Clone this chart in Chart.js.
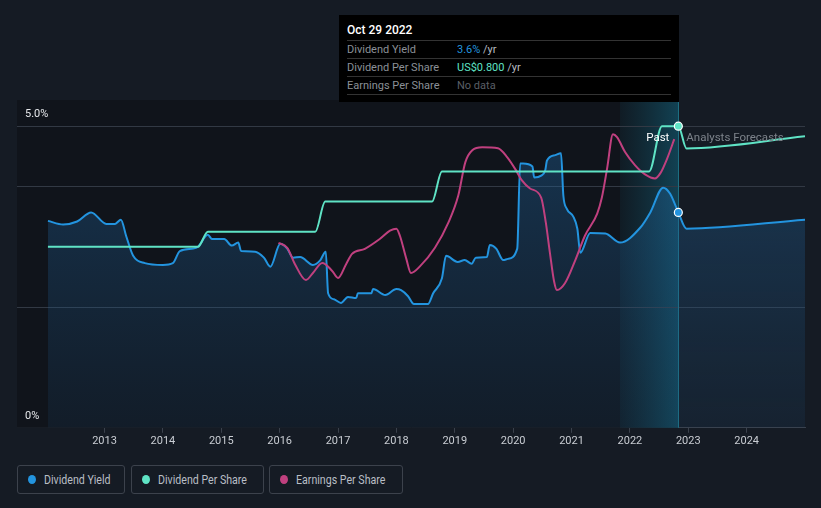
<!DOCTYPE html>
<html>
<head>
<meta charset="utf-8">
<script src="https://cdn.jsdelivr.net/npm/chart.js@4.4.0/dist/chart.umd.min.js"></script>
<style>
  body { margin: 0; background: #151b24; width: 821px; height: 508px; overflow: hidden; font-family: Roboto, sans-serif; }
  #wrap { position: absolute; left: 0; top: 0; width: 821px; height: 450px; }
  .tip { position: absolute; left: 339px; top: 15px; width: 340px; height: 87px; background: #000; box-sizing: border-box; padding: 7px 8px 0 8px; }
  .tip .title { color: #fff; font-size: 12px; font-weight: 500; height: 18px; line-height: 17px; border-bottom: 1px solid #333; }
  .tip .row { height: 17px; line-height: 17px; border-bottom: 1px solid #333; font-size: 11px; color: #8b9097; display: flex; }
  .tip .row span.l { width: 110px; }
  .tip .row .v { color: #b8bcc2; }
  .legend div { position: absolute; top: 465px; box-sizing: border-box; border: 1px solid #3c424c; border-radius: 3px; height: 29px; line-height: 27px; color: #b9bec5; font-size: 12.5px; white-space: nowrap; }
  .legend div i { position: absolute; left: 10px; top: 9px; width: 8px; height: 9px; border-radius: 50%; }
  .legend div span { position: absolute; left: 26px; top: 0; transform: scaleX(0.85); transform-origin: left center; }
</style>
</head>
<body>
<div id="wrap"><canvas id="chart"></canvas></div>

<div class="tip">
  <div class="title">Oct 29 2022</div>
  <div class="row"><span class="l">Dividend Yield</span><span class="v"><b style="color:#2394df;font-weight:400">3.6%</b> /yr</span></div>
  <div class="row"><span class="l">Dividend Per Share</span><span class="v"><b style="color:#5fe3c5;font-weight:400">US$0.800</b> /yr</span></div>
  <div class="row"><span class="l">Earnings Per Share</span><span style="color:#5a5f66">No data</span></div>
</div>

<div class="legend">
  <div style="left:17px;width:108px"><i style="background:#2394df"></i><span>Dividend Yield</span></div>
  <div style="left:131px;width:133px"><i style="background:#5fe3c5"></i><span>Dividend Per Share</span></div>
  <div style="left:269px;width:134px"><i style="background:#c0407f"></i><span>Earnings Per Share</span></div>
</div>

<script>
// decimal years on the x axis
const tickYears = [2013, 2014, 2015, 2016, 2017, 2018, 2019, 2020, 2021, 2022, 2023, 2024];
const todayYear = 2022.83;     // Oct 29 2022
const bandStart = 2021.83;     // last 12 months highlight

// Dividend yield (%)
const yieldYears = [2012.03, 2012.29, 2012.53, 2012.77, 2013.03, 2013.18, 2013.28, 2013.37, 2013.49, 2013.69,
  2014.00, 2014.17, 2014.29, 2014.52, 2014.60, 2014.77, 2014.84, 2015.05, 2015.18, 2015.29,
  2015.34, 2015.58, 2015.73, 2015.84, 2016.01, 2016.13, 2016.23, 2016.35, 2016.57, 2016.69,
  2016.79, 2016.83, 2016.93, 2017.05, 2017.17, 2017.31, 2017.34, 2017.57, 2017.60, 2017.81,
  2018.00, 2018.08, 2018.20, 2018.30, 2018.54, 2018.63, 2018.78, 2018.85, 2019.05, 2019.17,
  2019.29, 2019.36, 2019.55, 2019.60, 2019.71, 2019.83, 2019.91, 2020.07, 2020.12, 2020.17,
  2020.33, 2020.36, 2020.48, 2020.55, 2020.58, 2020.72, 2020.82, 2020.86, 2020.92, 2021.03,
  2021.10, 2021.15, 2021.32, 2021.58, 2021.83, 2022.18, 2022.35, 2022.57, 2022.69, 2022.83,
  2022.97, 2025.00];
const yieldValues = [3.43, 3.37, 3.42, 3.57, 3.38, 3.38, 3.45, 3.18, 2.85, 2.73,
  2.70, 2.73, 2.93, 2.97, 3.00, 3.20, 3.13, 3.13, 3.02, 3.07,
  2.93, 2.92, 2.82, 2.67, 3.05, 2.97, 2.82, 2.83, 2.70, 2.77,
  2.92, 2.23, 2.13, 2.07, 2.17, 2.15, 2.23, 2.23, 2.30, 2.20,
  2.30, 2.28, 2.18, 2.05, 2.05, 2.23, 2.48, 2.85, 2.75, 2.78,
  2.72, 2.82, 2.83, 3.03, 2.97, 2.78, 2.80, 2.97, 4.38, 4.38,
  4.33, 4.15, 4.18, 4.27, 4.43, 4.52, 4.55, 3.85, 3.63, 3.50,
  3.30, 2.90, 3.23, 3.22, 3.07, 3.32, 3.57, 3.98, 3.88, 3.57,
  3.30, 3.45];

// Dividend per share (US$)
const dpsYears = [2012.03, 2014.60, 2014.77, 2016.61, 2016.78, 2018.61, 2018.78, 2022.33, 2022.55, 2022.83, 2022.97, 2025.00];
const dpsValues = [0.48, 0.48, 0.52, 0.52, 0.60, 0.60, 0.68, 0.68, 0.80, 0.80, 0.741, 0.773];

// Earnings per share (US$)
const epsYears = [2015.98, 2016.13, 2016.26, 2016.45, 2016.57, 2016.73, 2016.90, 2017.00, 2017.14, 2017.24,
  2017.46, 2017.72, 2017.89, 2018.00, 2018.06, 2018.17, 2018.25, 2018.41, 2018.66, 2018.89,
  2019.06, 2019.18, 2019.30, 2019.47, 2019.74, 2019.90, 2020.05, 2020.15, 2020.29, 2020.48,
  2020.56, 2020.63, 2020.70, 2020.75, 2020.89, 2021.06, 2021.23, 2021.44, 2021.52, 2021.61,
  2021.71, 2021.78, 2021.92, 2022.09, 2022.26, 2022.43, 2022.52, 2022.64, 2022.76];
const epsValues = [1.84, 1.79, 1.63, 1.47, 1.54, 1.64, 1.56, 1.49, 1.63, 1.73,
  1.78, 1.88, 1.96, 1.98, 1.91, 1.68, 1.54, 1.61, 1.79, 2.04,
  2.31, 2.64, 2.76, 2.79, 2.78, 2.69, 2.56, 2.46, 2.38, 2.29,
  2.04, 1.74, 1.46, 1.37, 1.44, 1.66, 1.91, 2.13, 2.29, 2.58,
  2.92, 2.89, 2.74, 2.61, 2.52, 2.48, 2.53, 2.68, 2.87];

const gridValues = [2, 4, 5];

const toPoints = (xs, ys) => xs.map((x, i) => ({ x: x, y: ys[i] }));
const markerRadius = ctx => (ctx.raw && ctx.raw.x === todayYear ? 4 : 0);

const backdrop = {
  id: 'backdrop',
  beforeDatasetsDraw(chart) {
    const { ctx, chartArea: a, scales: { x, y } } = chart;
    const xNow = x.getPixelForValue(todayYear);
    const xBand = x.getPixelForValue(bandStart);
    ctx.save();
    // past region is a touch darker
    ctx.fillStyle = '#10141b';
    ctx.fillRect(a.left, a.top, xNow - a.left, a.bottom - a.top);
    const g = ctx.createLinearGradient(xBand, 0, xNow, 0);
    g.addColorStop(0, 'rgba(20,120,150,0.08)');
    g.addColorStop(1, 'rgba(20,140,175,0.38)');
    ctx.fillStyle = g;
    ctx.fillRect(xBand, a.top, xNow - xBand, a.bottom - a.top);
    ctx.strokeStyle = '#323944';
    ctx.lineWidth = 1;
    gridValues.forEach(v => {
      const py = Math.round(y.getPixelForValue(v)) + 0.5;
      ctx.beginPath(); ctx.moveTo(a.left, py); ctx.lineTo(a.right, py); ctx.stroke();
    });
    ctx.strokeStyle = '#1d6f82';
    ctx.beginPath(); ctx.moveTo(Math.round(xNow) + 0.5, a.top); ctx.lineTo(Math.round(xNow) + 0.5, a.bottom); ctx.stroke();
    ctx.restore();
  },
  afterDatasetsDraw(chart) {
    const { ctx, chartArea: a, scales: { x, y } } = chart;
    const xNow = x.getPixelForValue(todayYear);
    ctx.save();
    ctx.font = '11px Roboto, sans-serif';
    ctx.textBaseline = 'middle';
    ctx.fillStyle = '#e6e8eb';
    ctx.fillText('5.0%', a.left + 8, y.getPixelForValue(5) - 12);
    ctx.fillText('0%', a.left + 8, y.getPixelForValue(0) - 12);
    ctx.font = '11.5px Roboto, sans-serif';
    ctx.textAlign = 'right';
    ctx.fillStyle = '#ffffff';
    ctx.fillText('Past', xNow - 9, y.getPixelForValue(5) + 12);
    ctx.textAlign = 'left';
    ctx.fillStyle = '#7d838b';
    ctx.fillText('Analysts Forecasts', xNow + 8, y.getPixelForValue(5) + 12);
    ctx.restore();
  }
};

new Chart(document.getElementById('chart'), {
  type: 'line',
  data: {
    datasets: [{
      label: 'Dividend Per Share',
      data: toPoints(dpsYears, dpsValues),
      yAxisID: 'yDps',
      borderColor: '#5fe3c5',
      borderWidth: 2,
      cubicInterpolationMode: 'monotone',
      pointRadius: markerRadius,
      pointBackgroundColor: '#5fe3c5',
      pointBorderColor: '#ffffff',
      pointBorderWidth: 1.2,
      fill: false
    }, {
      label: 'Earnings Per Share',
      data: toPoints(epsYears, epsValues),
      yAxisID: 'yEps',
      borderColor: '#c0407f',
      borderWidth: 2,
      cubicInterpolationMode: 'monotone',
      pointRadius: 0,
      fill: false
    }, {
      label: 'Dividend Yield',
      data: toPoints(yieldYears, yieldValues),
      yAxisID: 'y',
      borderColor: '#2394df',
      borderWidth: 2,
      cubicInterpolationMode: 'monotone',
      pointRadius: markerRadius,
      pointBackgroundColor: '#2394df',
      pointBorderColor: '#ffffff',
      pointBorderWidth: 1.2,
      fill: 'origin',
      backgroundColor: ctx => {
        const a = ctx.chart.chartArea;
        if (!a) return 'rgba(30,100,160,0.3)';
        const g = ctx.chart.ctx.createLinearGradient(0, a.top, 0, a.bottom);
        g.addColorStop(0, 'rgba(33,110,175,0.40)');
        g.addColorStop(1, 'rgba(33,90,140,0.12)');
        return g;
      }
    }]
  },
  options: {
    responsive: true,
    maintainAspectRatio: false,
    animation: false,
    layout: { padding: { left: 17, right: 16, top: 100, bottom: 0 } },
    plugins: { legend: { display: false }, tooltip: { enabled: false } },
    scales: {
      x: {
        type: 'linear',
        min: 2011.5,
        max: 2025,
        afterBuildTicks: scale => { scale.ticks = tickYears.map(v => ({ value: v })); },
        ticks: { color: '#c9cdd3', font: { family: 'Roboto', size: 11 }, padding: 2, callback: v => String(v), maxRotation: 0 },
        grid: { drawOnChartArea: false, drawTicks: true, tickLength: 5, color: '#3a414c' },
        border: { color: '#3a414c' }
      },
      y: { display: false, min: 0, max: 5.4333 },
      yDps: { display: false, min: 0, max: 0.8693 },
      yEps: { display: false, min: 0, max: 3.26 }
    }
  },
  plugins: [backdrop]
});
</script>
</body>
</html>
